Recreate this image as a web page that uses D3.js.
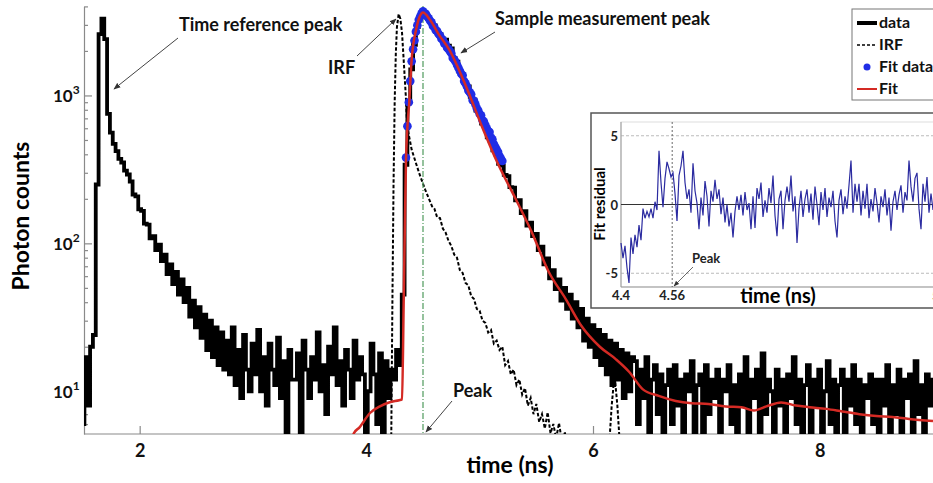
<!DOCTYPE html>
<html>
<head>
<meta charset="utf-8">
<script src="https://cdn.jsdelivr.net/npm/d3@7"></script>
<style>
  body { margin: 0; background: #fff; }
  svg { display: block; font-family: Lato, "Open Sans", sans-serif; font-weight: 700; }
</style>
</head>
<body>
<div id="chart"></div>
<script>
/* DATA */
// photon histogram, one bin every 0.025 ns starting at 1.5 ns
const dataStart = 1.5, dataStep = 0.025;
const dataCounts = [
  6, 17, 8, 20, 24,
  250, 2600, 3300, 2400, 750, 560, 470,
  420, 372, 352, 310, 292, 262, 214, 208, 170, 166, 136, 134, 108, 112, 90, 98, 76, 84, 62, 72,
  53, 64, 45, 57, 40, 50, 32, 41, 27, 37, 23, 33, 19, 30, 17, 27, 15, 25, 14,
  22, 13, 27, 11, 19, 9, 24, 14, 10, 21, 13, 26, 10, 17, 8, 21, 14, 11, 23, 9,
  16, 4, 19, 12, 12, 18, 4, 22, 14, 9, 17, 12, 25, 10, 15, 7, 20, 13, 27, 11,
  16, 8, 19, 14, 9, 22, 12, 17, 13, 4, 10, 21, 13, 6, 18, 4, 16, 9, 14, 12, 19,
  15, 45, 340, 900, 1500, 2200, 2900, 3400, 3650, 3550, 3300,
  3150, 2980, 2720, 2600, 2420, 2380, 2170, 2080, 1790, 1690, 1450, 1380, 1200, 1150, 980, 935,
  790, 760, 645, 605, 520, 495, 425, 400, 345, 335, 290, 285, 240, 238, 195, 196, 160, 165,
  132, 138, 112, 116, 90, 95, 72, 79, 58, 66, 49, 57, 41, 50, 36, 45, 31, 40, 27, 36, 22, 31,
  20, 28, 17, 26, 15, 24, 13, 22, 11, 21, 12, 19, 9, 18, 10, 17,
  16, 6, 14, 9, 17, 5, 12, 15, 7, 13, 4, 11, 14, 6, 15, 8, 12, 4, 13, 10,
  16, 5, 11, 13, 4, 15, 7, 12, 9, 14, 4, 12, 10, 15, 6, 11, 4, 13, 8, 17,
  5, 12, 9, 14, 4, 18, 7, 12, 10, 5, 14, 8, 12, 4, 13, 9, 17, 6, 12, 4,
  11, 15, 5, 12, 8, 14, 4, 10, 16, 6, 12, 5, 11, 14, 4, 12, 8, 15, 6, 12,
  4, 11, 9, 13, 6, 12, 4, 12, 8, 15, 5, 11, 7, 14, 4, 12, 9, 13, 5, 16,
  7, 11, 4, 13, 8, 12
];

// instrument response function
const irfTimes = [4.20, 4.22, 4.23, 4.24, 4.25, 4.26, 4.27, 4.285, 4.30, 4.315, 4.333, 4.35, 4.36, 4.40,
  4.465, 4.52, 4.58,
  4.600, 4.625, 4.650, 4.675, 4.700, 4.725, 4.750, 4.775, 4.800, 4.825, 4.850, 4.875, 4.900, 4.925,
  4.950, 4.975, 5.000, 5.025, 5.050, 5.075, 5.100, 5.125, 5.150, 5.175, 5.200, 5.225, 5.250, 5.275,
  5.300, 5.325, 5.350, 5.375, 5.400, 5.425, 5.450, 5.475, 5.500, 5.525, 5.550, 5.575, 5.600, 5.625,
  5.650, 5.675, 5.700, 5.725, 5.750, 5.775, 5.800, 5.85,
  6.14, 6.165, 6.19, 6.215, 6.24, 6.40];
const irfCounts = [3, 5, 40, 250, 900, 1900, 2900, 3550, 3300, 2650, 1570, 940, 620, 430,
  300, 230, 178,
  172, 150, 148, 126, 118, 104, 96, 84, 80, 66, 63, 54, 52, 44,
  42, 36, 35, 30, 29, 25, 26, 21, 22, 19, 20, 15, 16, 13,
  14, 11, 12, 9.5, 10.5, 8, 9, 7, 8.2, 6.2, 7, 5.6, 7.2, 5.2,
  6, 4.8, 6.1, 4.6, 5.3, 4.4, 4.8, 4,
  4, 8, 13, 8, 4, 3];

// points used for the fit (blue), one every 0.0125 ns from 4.35 ns
const fitDataStart = 4.35, fitDataStep = 0.0125;
const fitDataCounts = [380, 620, 900, 1250, 1700, 2050, 2350, 2700, 2980, 3250, 3420, 3600, 3700,
  3580, 3560, 3420, 3330, 3200, 3120, 2950, 2900, 2760, 2720, 2600, 2540, 2420, 2380, 2250, 2220,
  2100, 2060, 1990, 1930, 1790, 1750, 1690, 1610, 1540, 1470, 1400, 1370, 1250, 1210, 1150, 1080,
  1050, 1020, 930, 920, 870, 820, 790, 750, 735, 680, 665, 630, 600, 575, 565, 520, 505, 470, 450,
  430, 415, 390, 375, 360];

// fitted curve (red)
const fitTimes = [3.85, 3.89, 3.94, 4.03, 4.12, 4.20, 4.29, 4.315, 4.33, 4.35, 4.38, 4.40, 4.44, 4.47,
  4.50, 4.56, 4.64, 4.73, 4.88, 5.02, 5.155, 5.32, 5.46, 5.61, 5.76, 5.90, 6.06, 6.20, 6.32, 6.44,
  6.58, 6.73, 6.87, 7.02, 7.17, 7.31, 7.42, 7.53, 7.66, 7.79, 7.91, 8.06, 8.20, 8.35, 8.50, 8.64, 8.79, 9.0];
const fitCounts = [4.0, 5.2, 5.7, 7.1, 7.9, 8.4, 8.7, 8.8, 42, 370, 940, 1750, 2800, 3400,
  3640, 3260, 2580, 2045, 1150, 617, 353, 198, 119, 64, 42, 27.5, 20, 16.5, 13.5, 10.3,
  9.3, 8.6, 8.3, 8.2, 7.9, 7.8, 7.4, 7.9, 8.4, 8.0, 7.8, 7.6, 7.3, 7.0, 6.8, 6.7, 6.5, 6.3];

// inset: fit residual, one value every 0.00625 ns from 4.4 ns
const residualStart = 4.4, residualStep = 0.00625;
const residuals = [-2.8, -3.9, -3.0, -4.6, -5.7, -2.4, -3.6, -2.2, -3.1, -1.5, -2.6, -0.3, -1.0, -0.5,
  -0.9, -0.3, -1.0, 0.2, -0.4, 3.9, 1.6, -0.2, 1.9, 3.1, 2.6, 2.0, 2.3, 0.8, -1.2, 2.1, 2.8, 3.9,
  1.6, 0.4, 1.1, -0.6, 3.0, 1.0, 0.1, -1.8, 0.5, -0.8, 1.7, 0.6, -1.6, 1.0, 0.2, 1.8, 0.4, 1.1,
  -0.7, 0.5, -1.3, 0.0, -1.6, -0.6, -2.4, -0.5, 0.6, -0.4, 0.7, -0.8, 0.9, -0.4, 0.1, -1.8, 0.6,
  -1.7, 1.2, 0.4, 1.6, -0.9, 0.3, -0.6, 1.2, 0.1, 2.1, -0.8, -2.3, 0.4, 1.0, -1.8, 0.3, 1.3, 0.2,
  2.1, -0.5, 0.6, -2.8, -0.3, 1.0, -0.9, 0.4, 1.1, -0.6, 0.8, -1.1, 1.3, 0.0, -1.5, 0.9, -0.4,
  1.2, -0.9, 0.5, -0.2, 1.0, -1.2, -2.4, 0.3, 1.1, -0.7, 0.6, -0.3, 1.4, 3.2, -0.6, 1.5, 0.2,
  1.5, -0.8, 1.0, -0.3, 1.5, -1.0, 0.4, -0.5, 1.2, 0.1, -1.3, 0.6, -0.2, 1.1, -0.8, 0.5, -1.9,
  0.2, 1.0, -0.4, 0.7, 1.4, -0.6, 0.9, 0.3, 3.2, 1.3, 0.2, 1.9, 2.3, -0.3, -1.8, 1.5, 0.2, 2.0,
  -0.6, 0.8, -0.4, 0.5];

const xTicks = [2, 4, 6, 8];
const yMajor = [10, 100, 1000];
const yMinor = [6, 7, 8, 9, 20, 30, 40, 50, 60, 70, 80, 90, 200, 300, 400, 500, 600, 700, 800, 900, 2000, 3000, 4000];
const insetXTicks = [4.4, 4.56, 5.4];
const insetYTicks = [-5, 0, 5];
const peakTime = 4.5, insetPeakTime = 4.56;

const legendItems = ["data", "IRF", "Fit data", "Fit"];

/* SETUP */
const width = 933, height = 483;
const blue = "#1f2de6", red = "#d42a24";

const svg = d3.select("#chart").append("svg")
  .attr("width", width)
  .attr("height", height);

const defs = svg.append("defs");
defs.append("clipPath").attr("id", "plotClip")
  .append("rect").attr("x", 84).attr("y", 6).attr("width", 850).attr("height", 428);
defs.append("marker")
  .attr("id", "arrow")
  .attr("viewBox", "0 0 10 10")
  .attr("refX", 9).attr("refY", 5)
  .attr("markerWidth", 7).attr("markerHeight", 7)
  .attr("orient", "auto")
  .append("path").attr("d", "M0,1L10,5L0,9z").attr("fill", "#333");

const xScale = d3.scaleLinear().domain([1.5, 9.0]).range([83, 933]);
const yScale = d3.scaleLog().domain([5.14, 4000]).range([434, 6.4]);

/* AXES */
const xAxis = d3.axisBottom(xScale).tickValues(xTicks).tickSizeInner(-8).tickSizeOuter(0).tickPadding(10);
const xAxisGroup = svg.append("g")
  .attr("transform", `translate(0,434)`)
  .call(xAxis);
xAxisGroup.select(".domain").attr("d", "M84,0H933");
xAxisGroup.selectAll("text").attr("font-size", 18).attr("font-family", "Lato").attr("font-weight", 700).attr("fill", "#111");

const yAxisMajor = d3.axisLeft(yScale).tickValues(yMajor).tickSizeInner(-8).tickSizeOuter(0).tickFormat("");
const yAxisMinor = d3.axisLeft(yScale).tickValues(yMinor).tickSizeInner(-4).tickSizeOuter(0).tickFormat("");
svg.append("g").attr("transform", "translate(84,0)").call(yAxisMajor);
svg.append("g").attr("transform", "translate(84,0)").call(yAxisMinor).select(".domain").remove();
svg.selectAll(".domain, .tick line").attr("stroke", "#8a8a8a").attr("stroke-width", 1.2);

// 10^n labels
const yLabels = svg.append("g").selectAll("text")
  .data(yMajor)
  .join("text")
  .attr("x", 53)
  .attr("y", d => yScale(d) + 7)
  .attr("font-size", 17)
  .attr("fill", "#111");
yLabels.append("tspan").text("10");
yLabels.append("tspan").attr("dy", -8).attr("font-size", 12).text(d => Math.round(Math.log10(d)));

svg.append("text")
  .attr("x", 510).attr("y", 473)
  .attr("text-anchor", "middle")
  .attr("font-size", 23)
  .text("time (ns)");

svg.append("text")
  .attr("transform", "translate(29,216) rotate(-90)")
  .attr("text-anchor", "middle")
  .attr("font-size", 23)
  .text("Photon counts");

/* MARKS */
const plot = svg.append("g").attr("clip-path", "url(#plotClip)");

const dataPoints = dataCounts.map((c, i) => [dataStart + i * dataStep, c]);
const dataLine = d3.line()
  .x(d => xScale(d[0]))
  .y(d => yScale(Math.max(d[1], 3)))
  .curve(d3.curveStep);

plot.append("path")
  .datum(dataPoints)
  .attr("fill", "none")
  .attr("stroke", "#000")
  .attr("stroke-width", 3.8)
  .attr("d", dataLine);

const irfPoints = irfTimes.map((t, i) => [t, irfCounts[i]]);
plot.append("path")
  .datum(irfPoints)
  .attr("fill", "none")
  .attr("stroke", "#000")
  .attr("stroke-width", 2)
  .attr("stroke-dasharray", "3.5,2")
  .attr("d", d3.line().x(d => xScale(d[0])).y(d => yScale(d[1])));

plot.append("line")
  .attr("x1", xScale(peakTime)).attr("x2", xScale(peakTime))
  .attr("y1", 6).attr("y2", 434)
  .attr("stroke", "#4f9a5c")
  .attr("stroke-width", 1.2)
  .attr("stroke-dasharray", "6,2,1,2");

const fitDataPoints = fitDataCounts.map((c, i) => [fitDataStart + i * fitDataStep, c]);
plot.append("g").selectAll("circle")
  .data(fitDataPoints)
  .join("circle")
  .attr("cx", d => xScale(d[0]))
  .attr("cy", d => yScale(d[1]))
  .attr("r", 4.3)
  .attr("fill", blue);

const fitPoints = fitTimes.map((t, i) => [t, fitCounts[i]]);
plot.append("path")
  .datum(fitPoints)
  .attr("fill", "none")
  .attr("stroke", red)
  .attr("stroke-width", 2.5)
  .attr("d", d3.line().x(d => xScale(d[0])).y(d => yScale(d[1])).curve(d3.curveMonotoneX));

/* ANNOTATIONS */
function note(txt, tx, ty, size, x1, y1, x2, y2) {
  svg.append("text").attr("x", tx).attr("y", ty).attr("font-size", size).attr("fill", "#111").text(txt);
  svg.append("line")
    .attr("x1", x1).attr("y1", y1).attr("x2", x2).attr("y2", y2)
    .attr("stroke", "#444").attr("stroke-width", 1)
    .attr("marker-end", "url(#arrow)");
}
note("Time reference peak", 179, 31, 18, 178, 38, 114, 89);
note("Sample measurement peak", 495, 25, 18, 495, 32, 461, 53);
note("IRF", 328, 74, 18, 357, 56, 396, 19);
note("Peak", 453, 397, 18, 452, 401, 426, 432);

/* LEGEND */
const legend = svg.append("g");
legend.append("rect")
  .attr("x", 852).attr("y", 9).attr("width", 90).attr("height", 91)
  .attr("fill", "#fff").attr("stroke", "#777").attr("stroke-width", 1);
legend.append("line").attr("x1", 857).attr("x2", 877).attr("y1", 23).attr("y2", 23)
  .attr("stroke", "#000").attr("stroke-width", 4);
legend.append("line").attr("x1", 857).attr("x2", 877).attr("y1", 45).attr("y2", 45)
  .attr("stroke", "#000").attr("stroke-width", 1.5).attr("stroke-dasharray", "3,2");
legend.append("circle").attr("cx", 867).attr("cy", 67).attr("r", 3.5).attr("fill", blue);
legend.append("line").attr("x1", 857).attr("x2", 877).attr("y1", 89).attr("y2", 89)
  .attr("stroke", red).attr("stroke-width", 2);
legend.selectAll("text")
  .data(legendItems)
  .join("text")
  .attr("x", 879)
  .attr("y", (d, i) => 28 + i * 22)
  .attr("font-size", 16)
  .attr("fill", "#111")
  .text(d => d);

/* INSET: fit residual */
const ix = d3.scaleLinear().domain([4.4, 5.4]).range([621, 941]);
const iy = d3.scaleLinear().domain([-6, 6]).range([287, 122]);

const inset = svg.append("g");
inset.append("rect")
  .attr("x", 591).attr("y", 113).attr("width", 360).attr("height", 195)
  .attr("fill", "#fff").attr("stroke", "#555").attr("stroke-width", 1.5);
inset.append("rect")
  .attr("x", 621).attr("y", 122).attr("width", 320).attr("height", 165)
  .attr("fill", "none").attr("stroke", "#ddd").attr("stroke-width", 1);
inset.append("line").attr("x1", 621).attr("x2", 621).attr("y1", 122).attr("y2", 287)
  .attr("stroke", "#999").attr("stroke-width", 1);
inset.append("line").attr("x1", 621).attr("x2", 941).attr("y1", 287).attr("y2", 287)
  .attr("stroke", "#999").attr("stroke-width", 1);

inset.selectAll(".grid")
  .data(insetYTicks)
  .join("line")
  .attr("class", "grid")
  .attr("x1", 621).attr("x2", 941)
  .attr("y1", d => iy(d)).attr("y2", d => iy(d))
  .attr("stroke", d => d === 0 ? "#333" : "#aaa")
  .attr("stroke-width", d => d === 0 ? 1 : 0.8)
  .attr("stroke-dasharray", d => d === 0 ? null : "3,2");

inset.append("line")
  .attr("x1", ix(insetPeakTime)).attr("x2", ix(insetPeakTime))
  .attr("y1", 122).attr("y2", 287)
  .attr("stroke", "#444").attr("stroke-width", 0.8)
  .attr("stroke-dasharray", "2,2");

const residualPoints = residuals.map((r, i) => [residualStart + i * residualStep, r]);
inset.append("path")
  .datum(residualPoints)
  .attr("fill", "none")
  .attr("stroke", "#2b2ba0")
  .attr("stroke-width", 1.2)
  .attr("d", d3.line().x(d => ix(d[0])).y(d => iy(d[1])));

inset.selectAll(".ylab")
  .data(insetYTicks)
  .join("text")
  .attr("class", "ylab")
  .attr("x", 618)
  .attr("y", d => iy(d) + 5)
  .attr("text-anchor", "end")
  .attr("font-size", 13)
  .attr("fill", "#222")
  .text(d => d);

inset.selectAll(".xlab")
  .data(insetXTicks)
  .join("text")
  .attr("class", "xlab")
  .attr("x", d => ix(d))
  .attr("y", 300)
  .attr("text-anchor", "middle")
  .attr("font-size", 13)
  .attr("fill", "#222")
  .text(d => d);

inset.append("text")
  .attr("x", 778).attr("y", 303)
  .attr("text-anchor", "middle")
  .attr("font-size", 20)
  .text("time (ns)");

inset.append("text")
  .attr("transform", "translate(605,204) rotate(-90)")
  .attr("text-anchor", "middle")
  .attr("font-size", 15)
  .text("Fit residual");

inset.append("text").attr("x", 692).attr("y", 263).attr("font-size", 13).attr("fill", "#222").text("Peak");
inset.append("line")
  .attr("x1", 693).attr("y1", 267).attr("x2", 674).attr("y2", 286)
  .attr("stroke", "#444").attr("stroke-width", 0.8)
  .attr("marker-end", "url(#arrow)");
</script>
</body>
</html>
